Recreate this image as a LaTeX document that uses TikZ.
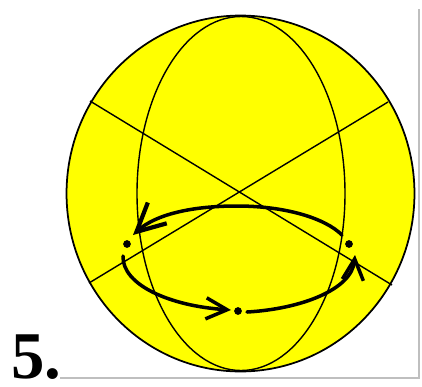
\documentclass[tikz,border=0pt]{standalone}
\usepackage{fontspec}
\setmainfont{Liberation Serif}
\usetikzlibrary{arrows.meta,shapes.geometric}
\definecolor{ballyellow}{RGB}{255,255,0}

\begin{document}
\begin{tikzpicture}[x=0.02cm,y=-0.02cm]
    % Styles for sphere and orbit
    \tikzset{
      sphere/.style={ellipse, draw=black, fill=ballyellow, line width=1pt, inner sep=0pt, minimum width=6.96cm, minimum height=7.12cm},
      gridline/.style={draw=black, line width=0.8pt},
      frameline/.style={draw=black!25, line width=0.8pt},
      orbit/.style={draw=black, line width=2pt, line cap=round},
      smallarrow/.style={orbit, -{Straight Barb[length=12pt, width=12pt, line width=2pt]}},
      bigarrow/.style={orbit, -{Straight Barb[length=16pt, width=16pt, line width=2.4pt]}},
      dot/.style={circle, fill=black, inner sep=0pt, minimum size=4.4pt}
    }
    \useasboundingbox (0,0) rectangle (422,386);

    % Frame
    \coordinate (frameTop) at (419,9);
    \coordinate (frameCorner) at (419,378);
    \coordinate (frameLeft) at (60,378);
    \draw[frameline] (frameTop) -- (frameCorner) -- (frameLeft);

    % Sphere with meridian and crossing lines
    \node[sphere] (ball) at (240.5,193.5) {};
    \draw[gridline] (241,193.5) ellipse (104 and 177);
    \coordinate (crossA) at (90,101);
    \coordinate (crossB) at (392,285);
    \coordinate (crossC) at (388,102);
    \coordinate (crossD) at (89,283);
    \draw[gridline] (crossA) -- (crossB);
    \draw[gridline] (crossC) -- (crossD);

    % Nodes with explicit coordinates
    \node[dot] (dotL) at (127,244) {};
    \node[dot] (dotR) at (349,244) {};
    \node[dot] (dotB) at (238,311) {};
    \node[inner sep=0pt, anchor=base west, font=\fontsize{38}{38}\selectfont\bfseries] (number) at (11,378) {5.};

    % Orbit pieces with arrows
    \coordinate (startL) at (123,256);
    \coordinate (tipB) at (231,310);
    \coordinate (startB) at (247,312);
    \coordinate (tipR) at (355,255);
    \coordinate (startR) at (342,235);
    \coordinate (topO) at (237,206);
    \coordinate (tipL) at (133,235);
    \draw[smallarrow] (startL) .. controls (122,285) and (170,306) .. (tipB);
    \draw[smallarrow] (startB) .. controls (300,309) and (352,290) .. (tipR);
    \draw[bigarrow] (startR) .. controls (325,218) and (285,206) .. (topO) .. controls (190,206) and (155,215) .. (tipL);

\end{tikzpicture}
\end{document}
